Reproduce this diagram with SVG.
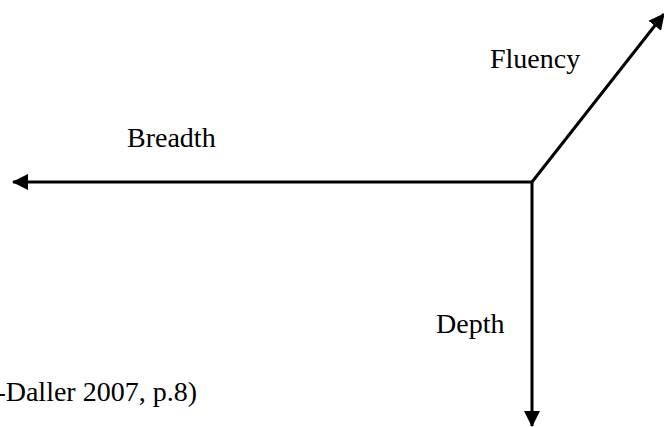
<svg xmlns="http://www.w3.org/2000/svg" width="664" height="427" viewBox="0 0 664 427">
  <style>
    .axis { stroke: #000; stroke-width: 3; fill: none; }
    .lbl { font-family: "Liberation Serif", "Times New Roman", serif; font-size: 28px; fill: #000; }
  </style>
  <defs>
    <marker id="head" viewBox="0 0 16 16" refX="15" refY="8" markerWidth="16" markerHeight="16" markerUnits="userSpaceOnUse" orient="auto">
      <path d="M0,0 L16,8 L0,16 Z" fill="#000"/>
    </marker>
  </defs>
  <rect width="664" height="427" fill="#fff"/>
  <g id="connectors">
    <line class="axis" x1="532" y1="182" x2="13" y2="182" marker-end="url(#head)"/>
    <line class="axis" x1="532" y1="182" x2="532" y2="426" marker-end="url(#head)"/>
    <line class="axis" x1="532" y1="182" x2="664" y2="14" marker-end="url(#head)"/>
  </g>
  <g id="breadth"><text class="lbl" x="127" y="147">Breadth</text></g>
  <g id="fluency"><text class="lbl" x="490" y="68">Fluency</text></g>
  <g id="depth"><text class="lbl" x="436" y="333">Depth</text></g>
  <g id="source"><text class="lbl" x="197" y="401" text-anchor="end">-Daller 2007, p.8)</text></g>
</svg>
